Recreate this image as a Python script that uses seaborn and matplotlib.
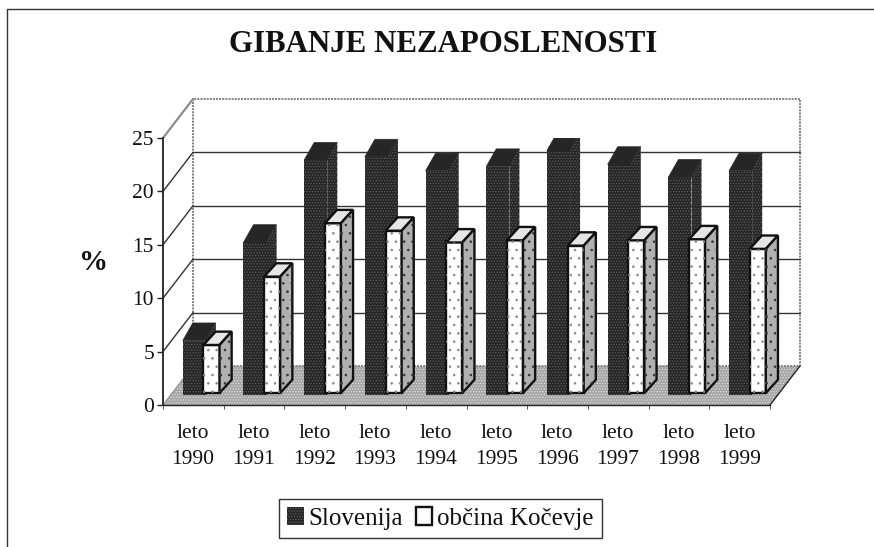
import numpy as np
import pandas as pd
import matplotlib
matplotlib.use("Agg")
import matplotlib.pyplot as plt
import matplotlib.transforms as mtransforms
from matplotlib.lines import Line2D
from matplotlib.patches import Polygon, Rectangle, Patch
import seaborn as sns

years = ["leto\n1990", "leto\n1991", "leto\n1992", "leto\n1993", "leto\n1994",
         "leto\n1995", "leto\n1996", "leto\n1997", "leto\n1998", "leto\n1999"]
slovenija = [5.1, 14.3, 22.0, 22.3, 21.0, 21.4, 22.9, 21.6, 20.4, 21.0]
kocevje = [4.5, 10.9, 15.9, 15.2, 14.1, 14.3, 13.8, 14.3, 14.4, 13.5]
y_ticks = [0, 5, 10, 15, 20, 25]

sns.set_theme(style="white")
plt.rcParams["font.family"] = ["Liberation Serif", "DejaVu Sans"]
plt.rcParams["hatch.linewidth"] = 0.6

W, H = 874, 547
fig = plt.figure(figsize=(W / 100, H / 100), dpi=100)
ax = fig.add_axes([163 / W, 1 - 405 / H, 607 / W, 267 / H])

df = pd.DataFrame({
    "leto": years * 2,
    "vrednost": slovenija + kocevje,
    "serija": ["Slovenija"] * 10 + ["občina Kočevje"] * 10,
})
sns.barplot(data=df, x="leto", y="vrednost", hue="serija", ax=ax, legend=False,
            palette=["#262626", "white"], width=0.6, dodge=True)

ax.set_xlim(-0.626, 9.374)
ax.set_ylim(0, 25)
ax.set_xlabel("")
ax.set_ylabel("")
x0, x1 = ax.get_xlim()

# 3d look, depth in data units
WALL_DX, WALL_DY = 0.494, 3.65
DARK_W, DARK_X, DARK_BASE = 0.38, -0.30, 0.93
DARK_DX, DARK_DY = 0.165, 1.65
WHITE_W, WHITE_X, WHITE_BASE = 0.265, 0.04, 1.12
WHITE_DX, WHITE_DY = 0.2, 1.25

# floor and back wall
ax.add_patch(Polygon([(x0, 0), (x1, 0), (x1 + WALL_DX, WALL_DY), (x0 + WALL_DX, WALL_DY)],
                     closed=True, facecolor="#a6a6a6", edgecolor="#dddddd", hatch="......",
                     linewidth=0, clip_on=False, zorder=1))
ax.plot([x0, x1], [0, 0], color="#222222", lw=1.0, clip_on=False, zorder=1.5)
ax.plot([x1, x1 + WALL_DX], [0, WALL_DY], color="#222222", lw=1.0, clip_on=False, zorder=1.5)
ax.plot([x0 + WALL_DX, x1 + WALL_DX, x1 + WALL_DX, x0 + WALL_DX, x0 + WALL_DX],
        [WALL_DY, WALL_DY, 25 + WALL_DY, 25 + WALL_DY, WALL_DY],
        color="#808080", lw=1.4, ls=(0, (1, 0.6)), clip_on=False, zorder=1.2)
for v in y_ticks:
    if 0 < v < 25:
        ax.plot([x0 + WALL_DX, x1 + WALL_DX], [v + WALL_DY, v + WALL_DY],
                color="#333333", lw=1.0, clip_on=False, zorder=1.3)
    if v > 0:
        ax.plot([x0, x0 + WALL_DX], [v, v + WALL_DY], color="#333333" if v < 25 else "#8c8c8c",
                lw=1.0 if v < 25 else 1.6, clip_on=False, zorder=1.3)
ax.plot([x0, x0 + WALL_DX], [0, WALL_DY], color="#8c8c8c", lw=0.8, clip_on=False, zorder=1.3)

# bars come out of seaborn, here they get moved back on the floor and get side faces
dark_bars = [b for b in ax.containers[0]]
white_bars = [b for b in ax.containers[1]]

for i, b in enumerate(dark_bars):
    h = b.get_height()
    b.set_x(i + DARK_X)
    b.set_width(DARK_W)
    b.set_y(DARK_BASE)
    b.set_edgecolor("#5c5c5c")
    b.set_hatch("......")
    b.set_linewidth(0)
    b.set_zorder(3)
    l, r, t = i + DARK_X, i + DARK_X + DARK_W, DARK_BASE + h
    ax.add_patch(Polygon([(l, t), (r, t), (r + DARK_DX, t + DARK_DY), (l + DARK_DX, t + DARK_DY)],
                         closed=True, facecolor="#262626", edgecolor="#262626", lw=0.5, zorder=3))
    ax.add_patch(Polygon([(r, t), (r + DARK_DX, t + DARK_DY), (r + DARK_DX, DARK_BASE + DARK_DY), (r, DARK_BASE)],
                         closed=True, facecolor="#262626", edgecolor="#5c5c5c", hatch="......",
                         lw=0, zorder=3))

for i, b in enumerate(white_bars):
    h = b.get_height()
    b.set_x(i + WHITE_X)
    b.set_width(WHITE_W)
    b.set_y(WHITE_BASE)
    b.set_edgecolor("#111111")
    b.set_linewidth(1.7)
    b.set_zorder(5)
    l, r, t = i + WHITE_X, i + WHITE_X + WHITE_W, WHITE_BASE + h
    ax.add_patch(Polygon([(l, t), (r, t), (r + WHITE_DX, t + WHITE_DY), (l + WHITE_DX, t + WHITE_DY)],
                         closed=True, facecolor="#e6e6e6", edgecolor="#111111", lw=1.7, zorder=5,
                         joinstyle="miter", clip_on=False))
    ax.add_patch(Polygon([(r, t), (r + WHITE_DX, t + WHITE_DY), (r + WHITE_DX, WHITE_BASE + WHITE_DY), (r, WHITE_BASE)],
                         closed=True, facecolor="#b0b0b0", edgecolor="#111111", lw=1.7, zorder=5,
                         joinstyle="miter", clip_on=False))
    # dots on the front face
    ax.add_patch(Rectangle((l, WHITE_BASE), WHITE_W, h, facecolor="none", edgecolor="#888888",
                           hatch="..", lw=0, zorder=5.1))
    ax.add_patch(Polygon([(r, t), (r + WHITE_DX, t + WHITE_DY), (r + WHITE_DX, WHITE_BASE + WHITE_DY), (r, WHITE_BASE)],
                         closed=True, facecolor="none", edgecolor="#333333", hatch="..", lw=0, zorder=5.1,
                         clip_on=False))

# axes
sns.despine(ax=ax, top=True, right=True, bottom=True)
ax.spines["left"].set_color("#222222")
ax.spines["left"].set_linewidth(1.3)
ax.set_yticks(y_ticks)
ax.tick_params(axis="y", labelsize=15.5, length=4, width=1.0, color="#222222", left=True,
               pad=2.5, labelcolor="#111111")
ax.set_xticks(range(10))
ax.set_xticklabels(years, fontsize=15.5, color="#111111", linespacing=1.55)
ax.tick_params(axis="x", length=0, pad=13.5)
offset = mtransforms.ScaledTranslation(-8 / 100, 0, fig.dpi_scale_trans)
for lab in ax.get_xticklabels():
    lab.set_transform(lab.get_transform() + offset)
ax.set_xticks([x0 + i for i in range(11)], minor=True)
ax.tick_params(axis="x", which="minor", length=3, width=0.7, color="#555555", bottom=True)

fig.text(443.5 / W, 1 - 45 / H, "GIBANJE NEZAPOSLENOSTI", ha="center", va="center",
         fontsize=22.2, fontweight="bold", color="#111111")
fig.text(94 / W, 1 - 262 / H, "%", ha="center", va="center", fontsize=21,
         fontweight="bold", color="#111111")

handles = [Patch(facecolor="#262626", edgecolor="#5c5c5c", hatch="......", lw=0),
           Patch(facecolor="white", edgecolor="#111111", lw=1.7)]
fig.legend(handles, ["Slovenija", "občina Kočevje"], ncol=2, fontsize=18, loc="center",
           bbox_to_anchor=(440.5 / W, 1 - 518.5 / H), frameon=True, fancybox=False,
           edgecolor="#333333", facecolor="white", framealpha=1, handlelength=0.66,
           handleheight=0.7, handletextpad=0.2, columnspacing=0.5, borderpad=0.32,
           borderaxespad=0, labelcolor="#111111")

# outer frame, only left and top are on the scan
fig.add_artist(Line2D([7 / W, 7 / W, 1], [0, 1 - 9 / H, 1 - 9 / H], transform=fig.transFigure,
                      color="#333333", lw=1.0))

fig.savefig("out.png", dpi=100)
